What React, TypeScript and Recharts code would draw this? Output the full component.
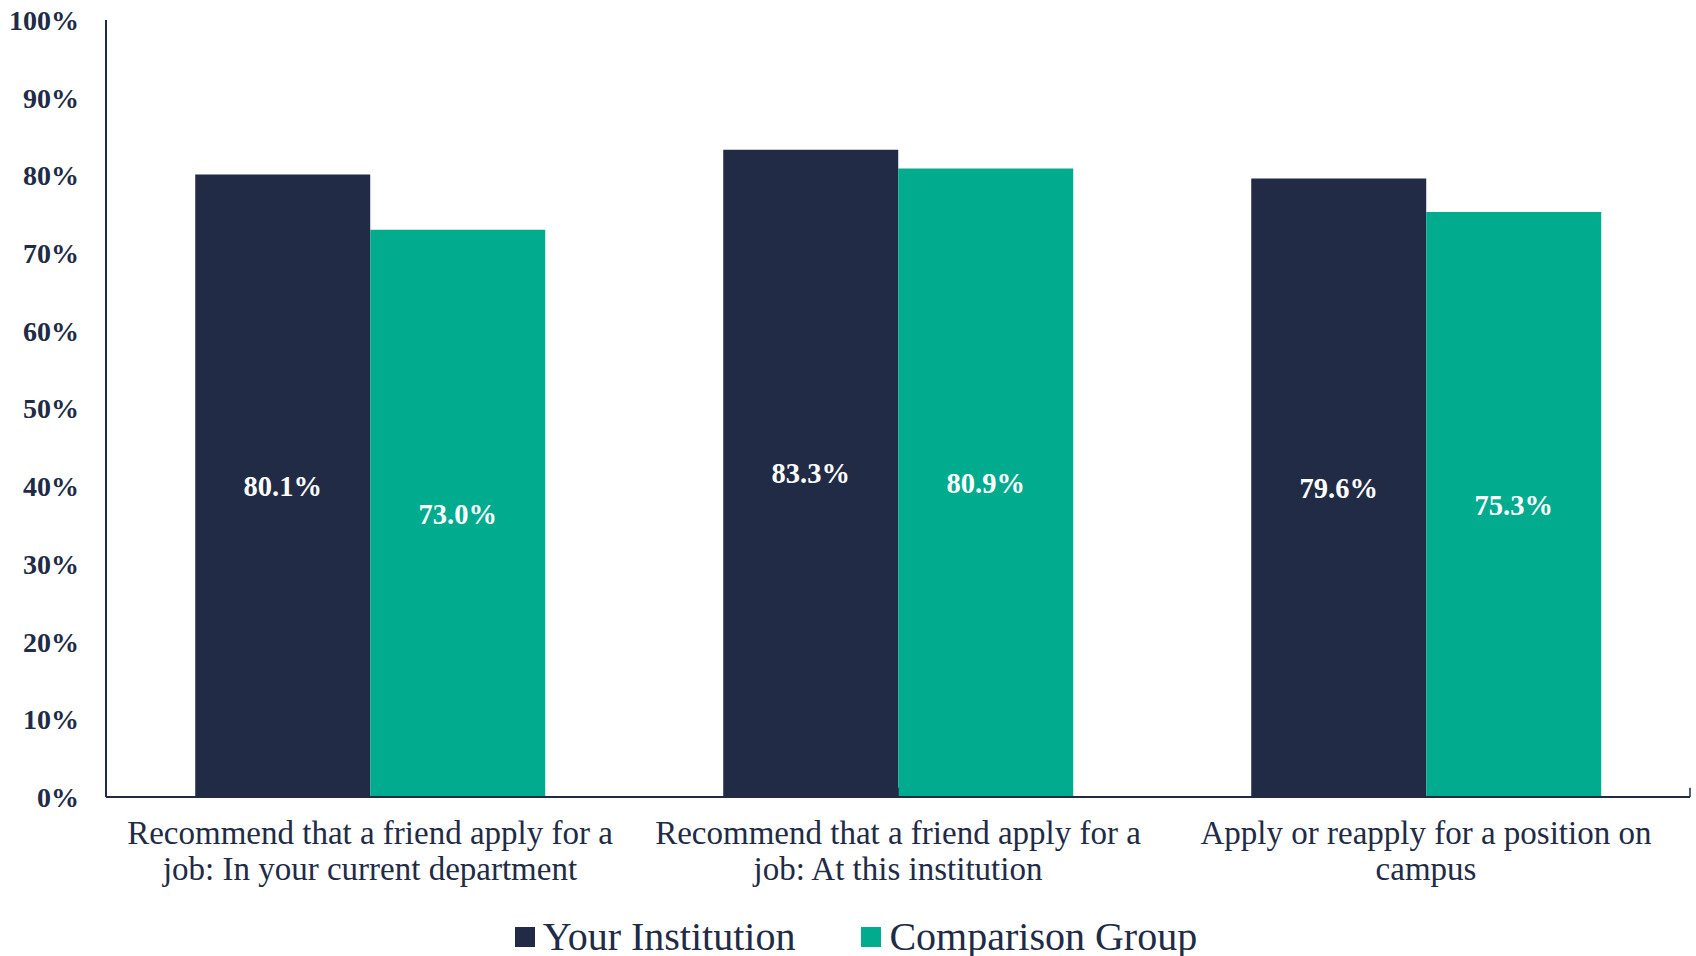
import React from 'react'
import { BarChart, Bar, XAxis, YAxis, LabelList, Legend, ReferenceLine } from 'recharts'

const categories = [
  'Recommend that a friend apply for a\njob: In your current department',
  'Recommend that a friend apply for a\njob: At this institution',
  'Apply or reapply for a position on\ncampus',
]
const yourInstitution = [80.1, 83.3, 79.6]
const comparisonGroup = [73.0, 80.9, 75.3]
const yTicks = [0, 10, 20, 30, 40, 50, 60, 70, 80, 90, 100]

const NAVY = '#212b46'
const TEAL = '#00ab8e'
const FONT = '"Liberation Serif", "DejaVu Serif", serif'

const data = categories.map((name, i) => ({
  name,
  your: yourInstitution[i],
  comp: comparisonGroup[i],
}))

const CategoryTick = ({ x, y, payload }: any) => {
  const lines = String(payload.value).split('\n')
  return (
    <text x={x} y={y} textAnchor="middle" fill={NAVY} fontFamily={FONT} fontSize={33}>
      {lines.map((l, i) => (
        <tspan key={i} x={x} dy={i === 0 ? 39 : 36}>{l}</tspan>
      ))}
    </text>
  )
}

const LegendContent = () => (
  <div style={{ display: 'flex', justifyContent: 'center', alignItems: 'center', fontFamily: FONT, fontSize: 40, color: NAVY, paddingLeft: 16 }}>
    <span style={{ width: 20, height: 20, background: NAVY, display: 'inline-block', marginRight: 8 }} />
    <span style={{ marginRight: 66 }}>Your Institution</span>
    <span style={{ width: 20, height: 20, background: TEAL, display: 'inline-block', marginRight: 8 }} />
    <span>Comparison Group</span>
  </div>
)

const pct = (v: number) => `${v.toFixed(1)}%`

export default function App() {
  return (
    <div style={{ position: 'absolute', left: 0, top: 0, width: 1696, height: 956, background: '#fff' }}>
      <BarChart
        width={1696}
        height={956}
        data={data}
        margin={{ top: 20, right: 6, left: 0, bottom: 59 }}
        barCategoryGap="16.9%"
        barGap={0}
      >
        <XAxis
          dataKey="name"
          tick={<CategoryTick />}
          tickLine={false}
          axisLine={{ stroke: NAVY, strokeWidth: 2 }}
          height={100}
          interval={0}
        />
        <XAxis xAxisId="edges" type="number" domain={[0, 3]} hide />
        <YAxis
          domain={[0, 100]}
          ticks={yTicks}
          tickFormatter={(v: number) => `${v}%`}
          tickLine={false}
          tickSize={0}
          tickMargin={27}
          axisLine={{ stroke: NAVY, strokeWidth: 2 }}
          tick={{ fill: NAVY, fontFamily: FONT, fontSize: 28, fontWeight: 700 }}
          width={106}
          interval={0}
        />
        {[1, 2, 3].map(b => (
          <ReferenceLine
            key={b}
            xAxisId="edges"
            segment={[{ x: b, y: 0 }, { x: b, y: 1.2 }]}
            stroke={NAVY}
            strokeWidth={1.5}
          />
        ))}
        <Legend
          verticalAlign="middle"
          align="center"
          content={<LegendContent />}
          wrapperStyle={{ top: 913, left: 0, width: 1696 }}
        />
        <Bar dataKey="your" name="Your Institution" fill={NAVY} isAnimationActive={false}>
          <LabelList
            dataKey="your"
            position="center"
            formatter={pct}
            fill="#ffffff"
            fontFamily={FONT}
            fontSize={28.5}
            fontWeight={700}
          />
        </Bar>
        <Bar dataKey="comp" name="Comparison Group" fill={TEAL} isAnimationActive={false}>
          <LabelList
            dataKey="comp"
            position="center"
            formatter={pct}
            fill="#ffffff"
            fontFamily={FONT}
            fontSize={28.5}
            fontWeight={700}
          />
        </Bar>
      </BarChart>
    </div>
  )
}
